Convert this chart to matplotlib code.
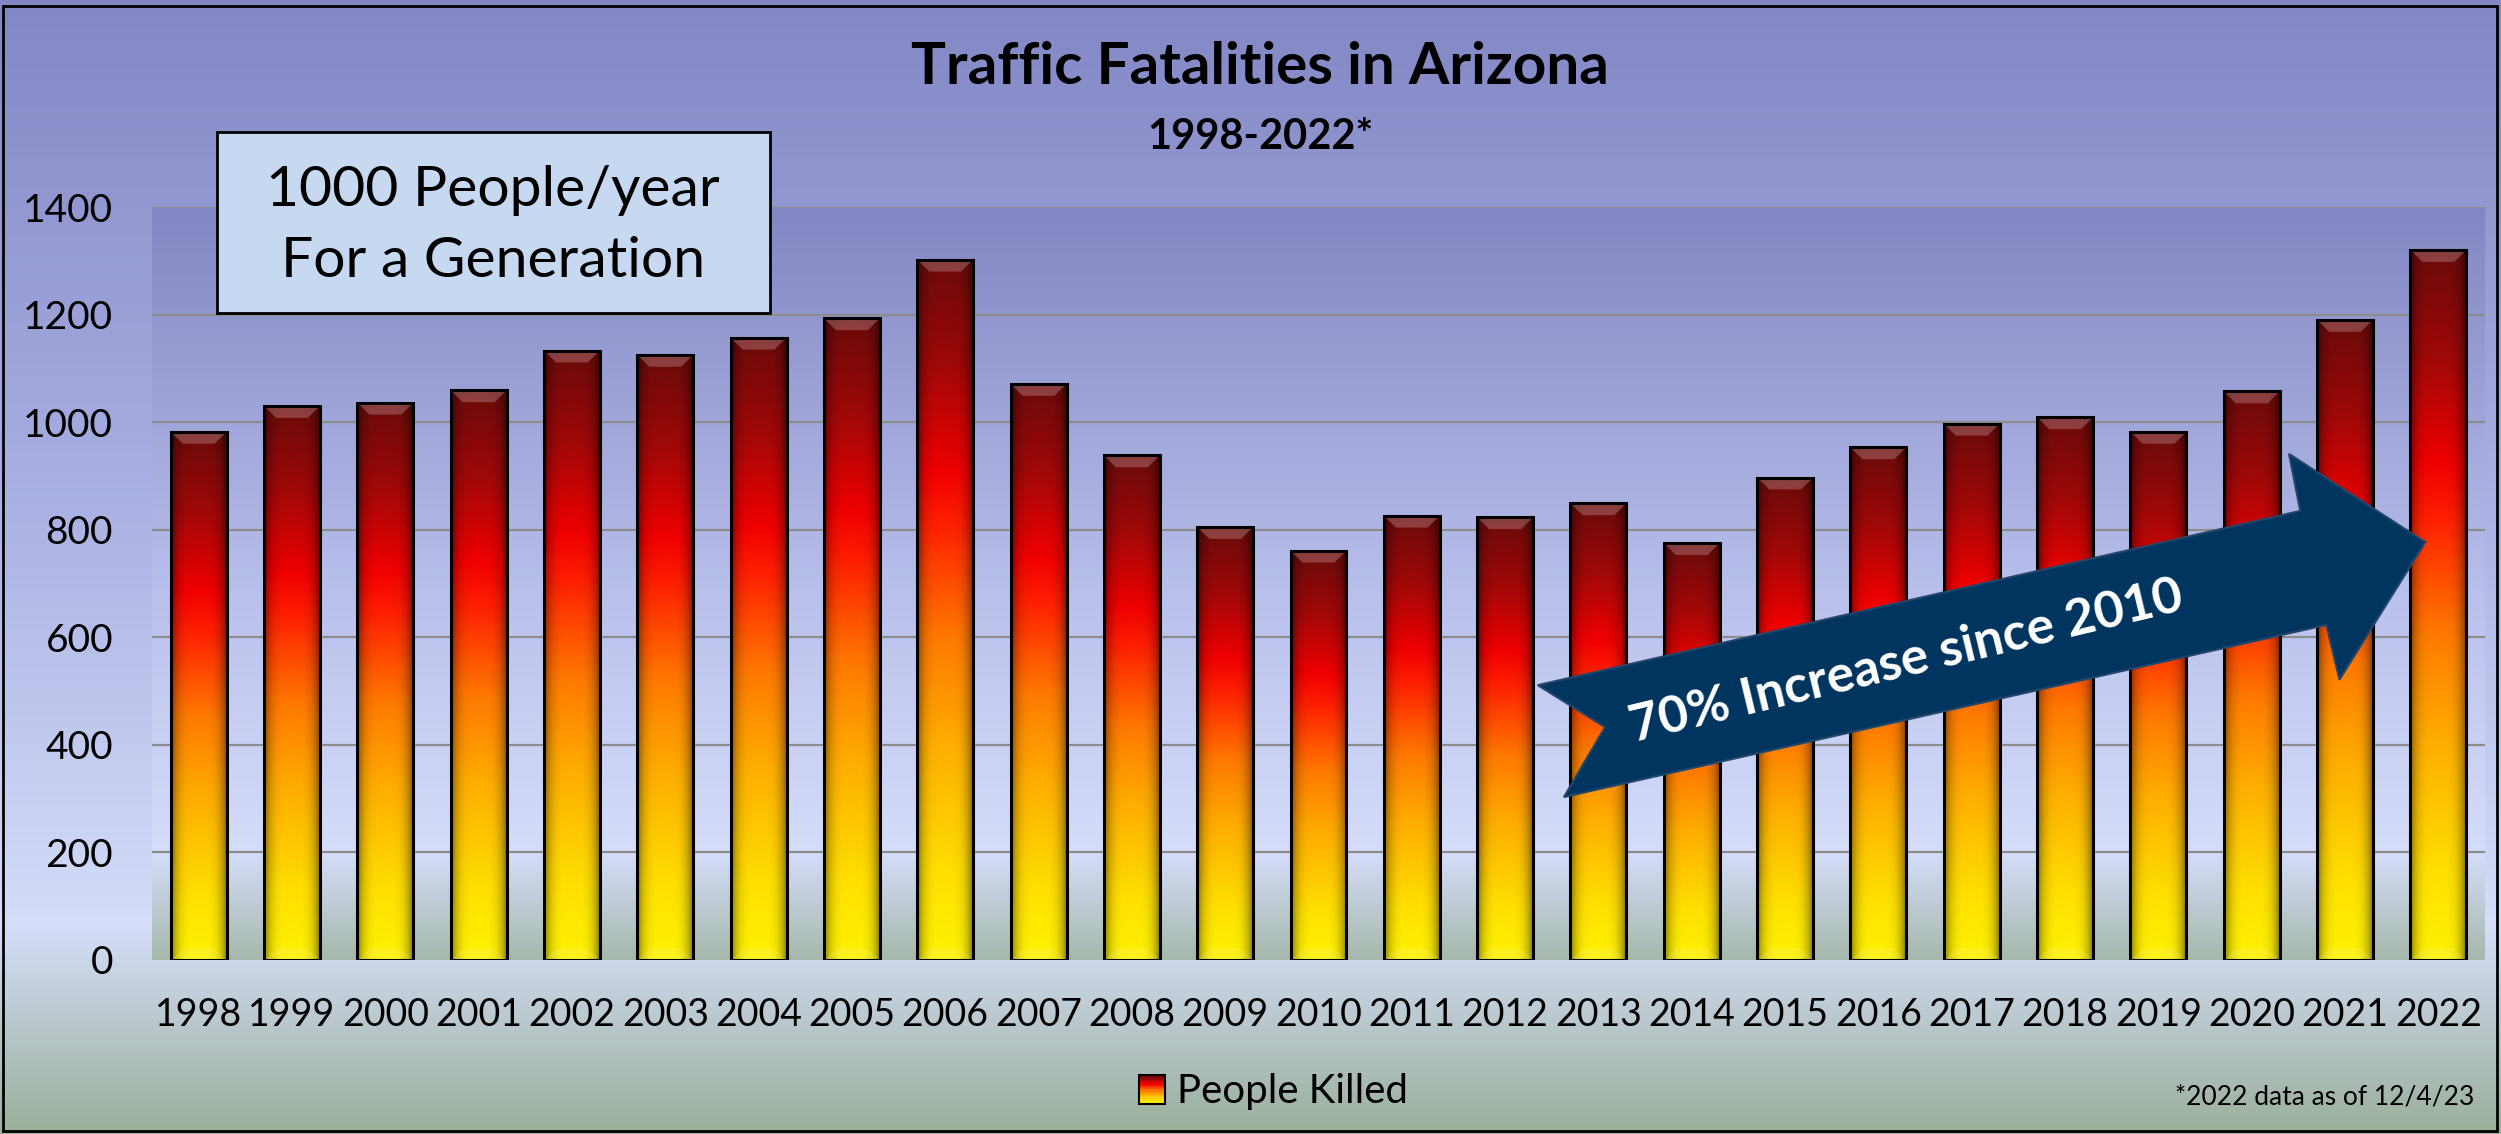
import numpy as np
import matplotlib
matplotlib.use("Agg")
import matplotlib.pyplot as plt
from matplotlib.colors import LinearSegmentedColormap
from matplotlib.patches import Rectangle, Polygon, Patch
from matplotlib.legend_handler import HandlerBase

plt.rcParams['font.family'] = ['Lato', 'DejaVu Sans']

# data
years = [str(y) for y in range(1998, 2023)]
killed = [982, 1030, 1036, 1059, 1133, 1125, 1157, 1193, 1302, 1071, 938, 805,
          761, 826, 823, 849, 775, 897, 953, 997, 1009, 982, 1057, 1190, 1320]
yticks = [0, 200, 400, 600, 800, 1000, 1200, 1400]

# arrow outline in data units (bar index, people)
arrow_x = [14.35, 15.07, 14.63, 22.80, 22.94, 23.86, 22.40, 22.52]
arrow_y = [511, 433, 303, 623, 521, 777, 941, 835]

W, H = 2501, 1134
fig = plt.figure(figsize=(W / 100, H / 100), dpi=100)

def fx(px):
    return px / W

def fy(py):
    return 1 - py / H

# figure background gradient
fig_cmap = LinearSegmentedColormap.from_list(
    'figbg', [(0, '#8387C5'), (0.4, '#A6ACE0'), (0.82, '#D5DDF9'), (1, '#9CB09C')])
bg = fig.add_axes([0, 0, 1, 1], zorder=-10)
bg.imshow(np.linspace(0, 1, 256)[:, None], aspect='auto', extent=[0, 1, 0, 1],
          cmap=fig_cmap, interpolation='bilinear')
bg.axis('off')

ax = fig.add_axes([fx(152), fy(960), fx(2485) - fx(152), fy(207) - fy(960)])
n = len(killed)
idx = np.arange(n)

plot_cmap = LinearSegmentedColormap.from_list(
    'plotbg', [(0, '#8286C3'), (0.55, '#BCC4EE'), (0.86, '#D5DDFA'), (1, '#A6B8AC')])
ax.imshow(np.linspace(0, 1, 256)[:, None], aspect='auto', extent=[-0.5, n - 0.5, 0, 1400],
          cmap=plot_cmap, interpolation='bilinear', zorder=0)

for v in yticks[1:]:
    ax.axhline(v, color='#8C8C8C', lw=1.6, zorder=1)

bar_cmap = LinearSegmentedColormap.from_list(
    'bars', [(0, '#FFF200'), (0.12, '#FFE000'), (0.3, '#FFB000'), (0.46, '#FF7A00'),
             (0.62, '#FF2000'), (0.7, '#F00000'), (0.85, '#A00808'), (1, '#6B0A0A')])

bw = 0.6
xs = np.linspace(-1, 1, 40)
shade = 1 - 0.45 * np.abs(xs) ** 4
for i, v in enumerate(killed):
    col = bar_cmap(np.linspace(0, 1, 300))[:, :3]
    img = col[:, None, :] * shade[None, :, None]
    ax.imshow(img, extent=[i - bw / 2, i + bw / 2, 0, v], origin='lower',
              aspect='auto', interpolation='bilinear', zorder=2)
    # bevel at the top and bottom
    dx, dy = 0.13, 22
    ax.add_patch(Polygon([(i - bw / 2, v), (i + bw / 2, v), (i + bw / 2 - dx, v - dy),
                          (i - bw / 2 + dx, v - dy)], closed=True,
                         facecolor='white', alpha=0.22, lw=0, zorder=2.5))
    ax.add_patch(Polygon([(i - bw / 2, 0), (i + bw / 2, 0), (i + bw / 2 - dx, dy),
                          (i - bw / 2 + dx, dy)], closed=True,
                         facecolor='white', alpha=0.12, lw=0, zorder=2.5))

ax.bar(idx, killed, width=bw, facecolor='none', edgecolor='black', linewidth=2.2, zorder=3)

ax.set_xlim(-0.5, n - 0.5)
ax.set_ylim(0, 1400)
ax.set_xticks(idx)
ax.set_xticklabels(years)
ax.set_yticks(yticks)
ax.tick_params(axis='x', length=0, pad=27, labelsize=27)
ax.tick_params(axis='y', length=0, pad=28, labelsize=28)
for s in ax.spines.values():
    s.set_visible(False)

# trend arrow
ax.add_patch(Polygon(list(zip(arrow_x, arrow_y)), closed=True, facecolor='#003560',
                     edgecolor='#24466A', lw=1.5, zorder=5, clip_on=False))
ax.text(18.30, 554, '70% Increase since 2010', rotation=13.5, rotation_mode='anchor',
        ha='center', va='center', color='white', fontsize=37, fontweight='bold', zorder=6)

# titles
fig.text(fx(1260), fy(67), 'Traffic Fatalities in Arizona', ha='center', va='center',
         fontsize=42, fontweight='bold')
fig.text(fx(1260), fy(137), '1998-2022*', ha='center', va='center',
         fontsize=30, fontweight='bold')

# callout box
fig.add_artist(Rectangle((fx(217), fy(313)), fx(770) - fx(217), fy(132) - fy(313),
                         transform=fig.transFigure, facecolor='#C6D9F1',
                         edgecolor='black', lw=2, zorder=5))
fig.text(fx(493), fy(226), '1000 People/year\nFor a Generation', ha='center', va='center',
         fontsize=41, linespacing=1.5, zorder=6)

# legend with a gradient swatch
class GradHandler(HandlerBase):
    def create_artists(self, legend, orig_handle, xdescent, ydescent, width, height,
                       fontsize, trans):
        arts = []
        k = 12
        for j in range(k):
            arts.append(Rectangle((-xdescent, -ydescent + height * j / k), width, height / k,
                                  facecolor=bar_cmap((j + 0.5) / k), lw=0, transform=trans))
        arts.append(Rectangle((-xdescent, -ydescent), width, height, facecolor='none',
                              edgecolor='black', lw=1.5, transform=trans))
        return arts

proxy = Patch(label='People Killed')
fig.legend(handles=[proxy], handler_map={proxy: GradHandler()}, loc='center left',
           bbox_to_anchor=(fx(1139), fy(1092)), frameon=False, fontsize=29,
           handlelength=0.65, handleheight=0.7, handletextpad=0.3,
           borderpad=0, borderaxespad=0)

fig.text(fx(2474), fy(1097), '*2022 data as of 12/4/23', ha='right', va='center', fontsize=19)

fig.add_artist(Rectangle((fx(3), fy(1131)), fx(2497) - fx(3), fy(6) - fy(1131), fill=False,
                         edgecolor='black', lw=2, transform=fig.transFigure, zorder=10))

fig.savefig('out.png', dpi=100)
